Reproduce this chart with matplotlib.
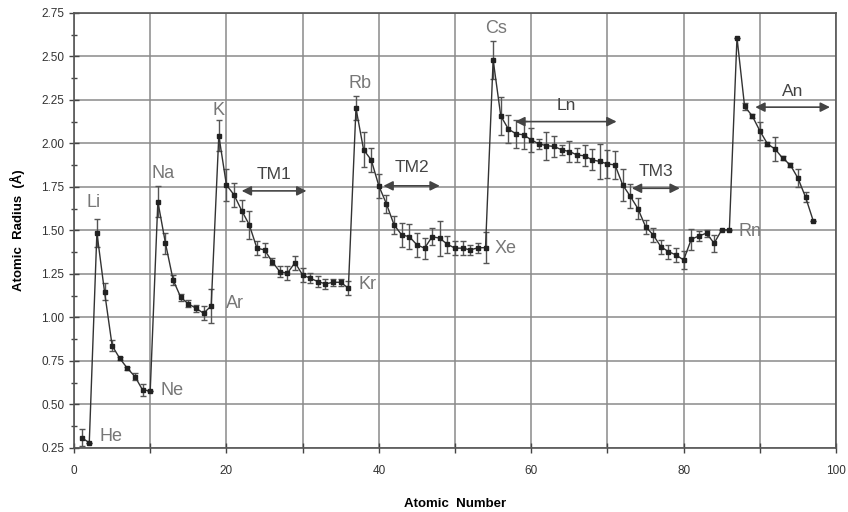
import matplotlib
matplotlib.use("Agg")
import matplotlib.pyplot as plt
from matplotlib.ticker import MultipleLocator
import numpy as np

# ---- data ----
atomic_number = list(range(1, 98))
radius = [0.31, 0.28, 1.487, 1.148, 0.838, 0.765, 0.708, 0.66, 0.583, 0.579,
          1.666, 1.426, 1.216, 1.116, 1.078, 1.053, 1.024, 1.066, 2.045, 1.761,
          1.704, 1.614, 1.532, 1.398, 1.388, 1.321, 1.263, 1.254, 1.315, 1.244,
          1.225, 1.206, 1.193, 1.202, 1.202, 1.168, 2.202, 1.963, 1.905, 1.756,
          1.652, 1.532, 1.474, 1.464, 1.417, 1.398, 1.464, 1.455, 1.420, 1.398,
          1.398, 1.388, 1.400, 1.401, 2.480, 2.158, 2.082, 2.055, 2.049, 2.020,
          1.997, 1.987, 1.982, 1.963, 1.953, 1.934, 1.928, 1.905, 1.896, 1.882,
          1.876, 1.761, 1.696, 1.625, 1.522, 1.474, 1.407, 1.378, 1.359, 1.330,
          1.449, 1.468, 1.484, 1.426, 1.503, 1.503, 2.608, 2.212, 2.158, 2.072,
          1.997, 1.967, 1.915, 1.876, 1.800, 1.691, 1.556]
error = [0.05, 0.0, 0.08, 0.05, 0.03, 0.01, 0.01, 0.02, 0.035, 0.0,
         0.09, 0.06, 0.03, 0.02, 0.02, 0.02, 0.04, 0.10, 0.09, 0.09,
         0.07, 0.06, 0.08, 0.04, 0.04, 0.02, 0.03, 0.04, 0.04, 0.04,
         0.03, 0.03, 0.03, 0.02, 0.02, 0.04, 0.07, 0.10, 0.07, 0.07,
         0.05, 0.05, 0.07, 0.07, 0.07, 0.06, 0.05, 0.10, 0.05, 0.04,
         0.04, 0.03, 0.03, 0.09, 0.11, 0.11, 0.08, 0.08, 0.08, 0.07,
         0.03, 0.08, 0.06, 0.03, 0.06, 0.04, 0.06, 0.06, 0.10, 0.08,
         0.08, 0.09, 0.07, 0.06, 0.04, 0.04, 0.04, 0.04, 0.04, 0.05,
         0.06, 0.03, 0.02, 0.05, 0.0, 0.0, 0.0, 0.02, 0.01, 0.05,
         0.01, 0.07, 0.01, 0.01, 0.05, 0.03, 0.0]

element_labels = ["He", "Li", "Ne", "Na", "Ar", "K", "Kr", "Rb", "Xe", "Cs", "Rn"]
element_x = [3.3, 1.7, 11.3, 10.2, 20.0, 18.2, 37.3, 36.0, 55.2, 54.0, 87.2]
element_y = [0.315, 1.66, 0.58, 1.825, 1.078, 2.19, 1.187, 2.342, 1.398, 2.662, 1.493]

block_labels = ["TM1", "TM2", "Ln", "TM3", "An"]
block_start = [22.0, 40.6, 57.9, 73.2, 89.4]
block_end = [30.5, 48.0, 71.2, 79.5, 99.2]
block_arrow_y = [1.727, 1.756, 2.125, 1.742, 2.208]
block_text_y = [1.82, 1.86, 2.215, 1.838, 2.298]

x_ticks = [0, 20, 40, 60, 80, 100]
y_ticks = [0.25, 0.50, 0.75, 1.00, 1.25, 1.50, 1.75, 2.00, 2.25, 2.50, 2.75]

# ---- plot ----
plt.rcParams['font.family'] = ['Liberation Sans', 'DejaVu Sans']
fig = plt.figure(figsize=(8.48, 5.12), dpi=100)
ax = fig.add_axes([0.0873, 0.125, 0.8986, 0.850])

ax.set_xlim(0, 100)
ax.set_ylim(0.25, 2.75)

ax.set_xticks(list(range(0, 101, 10)))
ax.set_xticklabels([str(v) if v in x_ticks else "" for v in range(0, 101, 10)])
ax.set_yticks(y_ticks)
ax.set_yticklabels(["%.2f" % v for v in y_ticks])
ax.yaxis.set_minor_locator(MultipleLocator(0.125))

ax.grid(True, which='major', color='#8a8a8a', linewidth=1.1)
ax.set_axisbelow(True)
for s in ax.spines.values():
    s.set_color('#555555')
    s.set_linewidth(1.2)

ax.tick_params(axis='both', which='major', direction='inout', length=7, width=1,
               color='#444444', labelsize=8.5, labelcolor='#333333')
ax.tick_params(axis='y', which='minor', direction='inout', length=4, width=1, color='#444444')
ax.tick_params(axis='x', which='major', pad=9)

ax.errorbar(atomic_number, radius, yerr=error, fmt='-s', color='#333333',
            ecolor='#555555', elinewidth=1.0, capsize=2.5, capthick=1.0,
            markersize=2.4, markerfacecolor='#222222', markeredgecolor='#222222',
            linewidth=1.0, zorder=3)

for lab, x, y in zip(element_labels, element_x, element_y):
    ax.text(x, y, lab, fontsize=13, color='#777777', ha='left', va='center', zorder=4)

for lab, x0, x1, ya, yt in zip(block_labels, block_start, block_end, block_arrow_y, block_text_y):
    ax.annotate('', xy=(x1, ya), xytext=(x0, ya),
                arrowprops=dict(arrowstyle='<|-|>', color='#444444', lw=1.2,
                                mutation_scale=14, shrinkA=0, shrinkB=0), zorder=4)
    ax.text((x0 + x1) / 2, yt, lab, fontsize=12.5, color='#444444', ha='center', va='center', zorder=4)

ax.set_ylabel('Atomic  Radius  (Å)', fontsize=9.5, fontweight='bold')
ax.yaxis.set_label_coords(-0.064, 0.5)
ax.set_xlabel('Atomic  Number', fontsize=9.5, fontweight='bold')
ax.xaxis.set_label_coords(0.5, -0.114)

fig.savefig('out.png', dpi=100, facecolor='white')
